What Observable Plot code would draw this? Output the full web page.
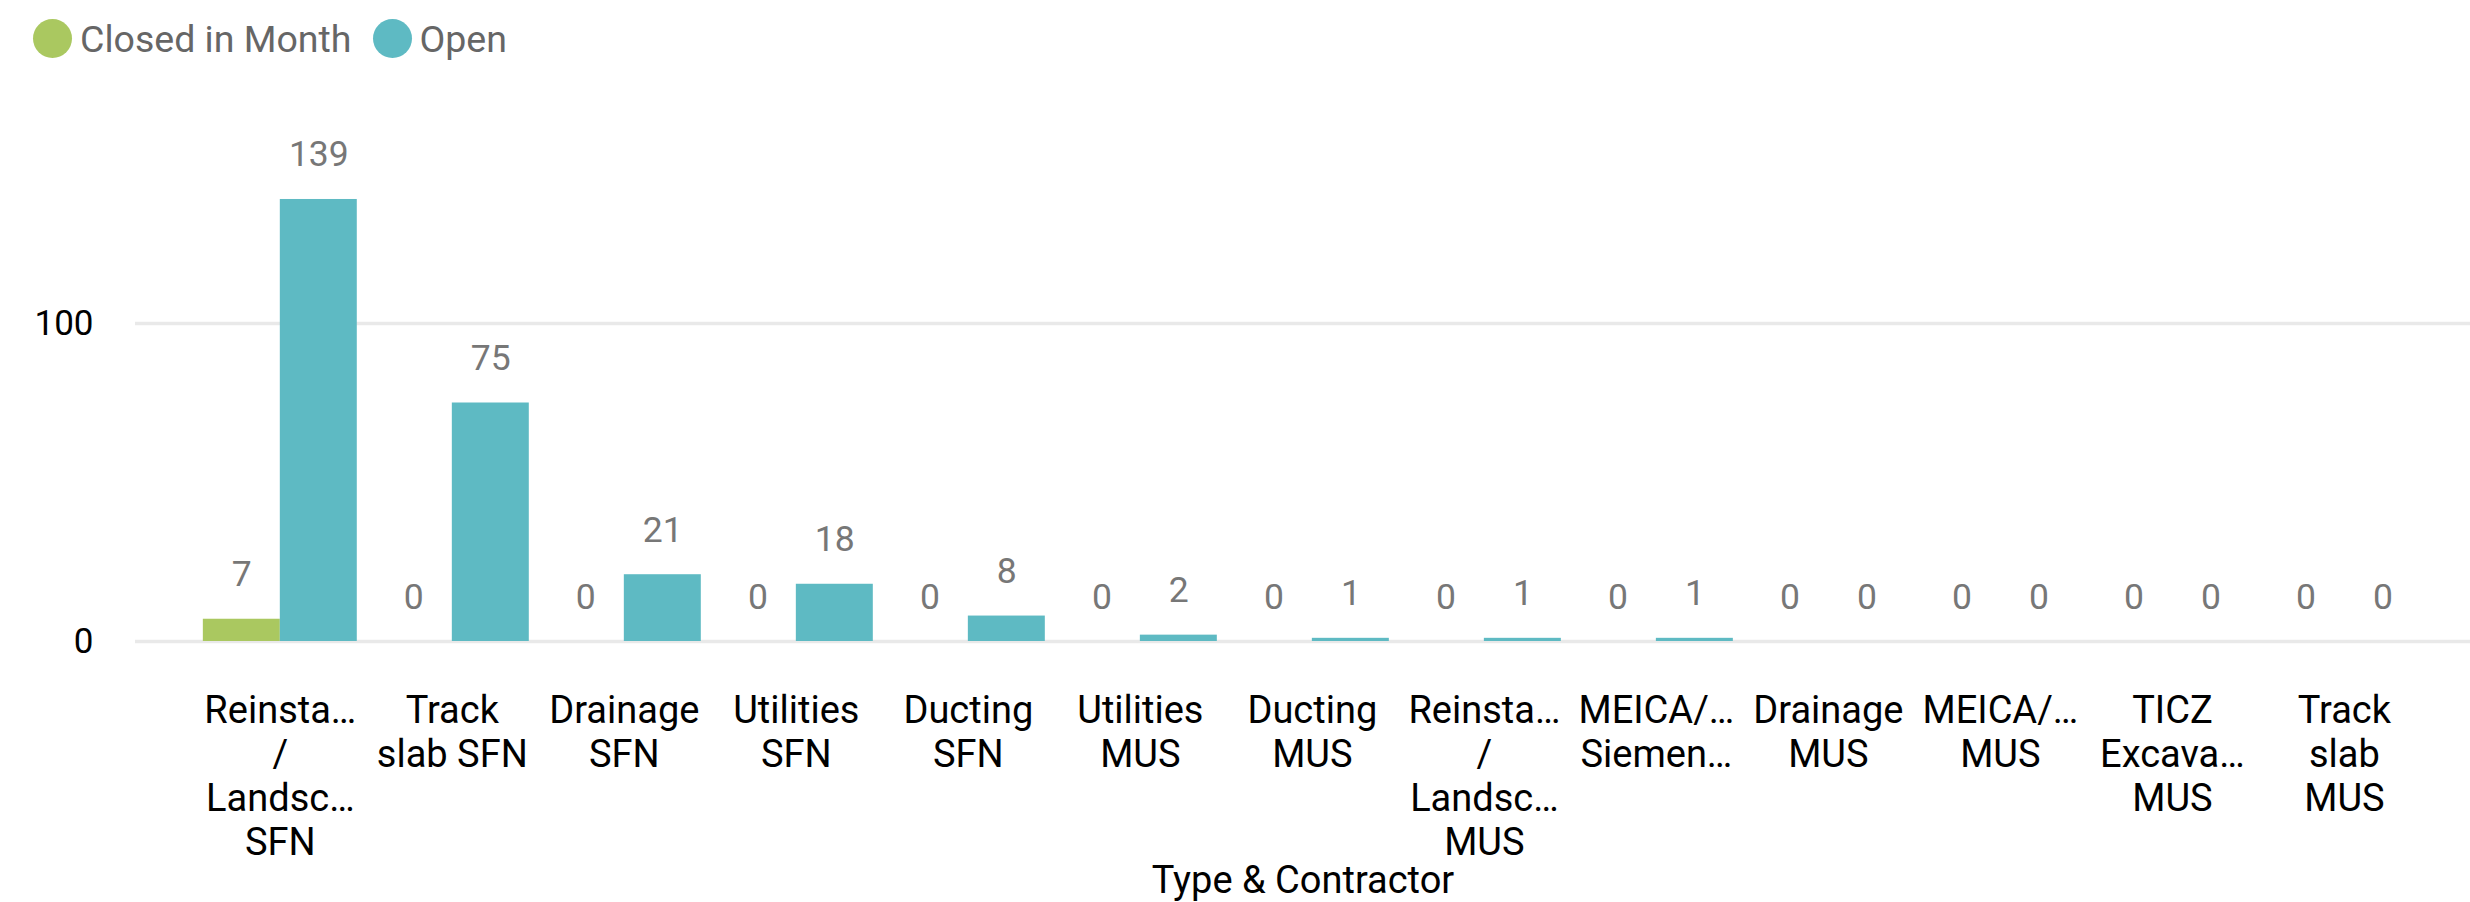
<!DOCTYPE html>
<html>
<head>
<meta charset="utf-8">
<script src="https://cdn.jsdelivr.net/npm/d3@7"></script>
<script src="https://cdn.jsdelivr.net/npm/@observablehq/plot@0.6"></script>
<style>
  html, body { margin: 0; padding: 0; background: #fff; }
  body { font-family: Roboto, "Noto Sans", sans-serif; width: 2470px; height: 902px; overflow: hidden; }
  #legend { height: 67px; padding-top: 5px; padding-left: 33px; display: flex; align-items: center; font-size: 37.5px; color: #666; }
  .item { display: flex; align-items: center; margin-right: 21px; }
  .sw { width: 39px; height: 39px; border-radius: 50%; margin-right: 8px; }
  #chart svg { display: block; overflow: visible; }
</style>
</head>
<body>
<div id="legend"></div>
<div id="chart"></div>
<script>
// ---- data ----
const categories = [
  "Reinsta… / Landsc… SFN",
  "Track slab SFN",
  "Drainage SFN",
  "Utilities SFN",
  "Ducting SFN",
  "Utilities MUS",
  "Ducting MUS",
  "Reinsta… / Landsc… MUS",
  "MEICA/… Siemen…",
  "Drainage MUS",
  "MEICA/… MUS",
  "TICZ Excava… MUS",
  "Track slab MUS"
];
const tickLabels = [
  "Reinsta…\n/\nLandsc…\nSFN",
  "Track\nslab SFN",
  "Drainage\nSFN",
  "Utilities\nSFN",
  "Ducting\nSFN",
  "Utilities\nMUS",
  "Ducting\nMUS",
  "Reinsta…\n/\nLandsc…\nMUS",
  "MEICA/…\nSiemen…",
  "Drainage\nMUS",
  "MEICA/…\nMUS",
  "TICZ\nExcava…\nMUS",
  "Track\nslab\nMUS"
];
const seriesNames = ["Closed in Month", "Open"];
const closedValues = [7, 0, 0, 0, 0, 0, 0, 0, 0, 0, 0, 0, 0];
const openValues = [139, 75, 21, 18, 8, 2, 1, 1, 1, 0, 0, 0, 0];
const seriesColors = ["#AAC860", "#5EBAC3"];
const yTicks = [0, 100];
const yDomain = [0, 150];
const axisTitle = "Type & Contractor";

// ---- tables ----
const closedRows = categories.map((c, i) => ({category: c, series: seriesNames[0], value: closedValues[i]}));
const openRows = categories.map((c, i) => ({category: c, series: seriesNames[1], value: openValues[i]}));

// ---- legend ----
const legend = document.getElementById("legend");
seriesNames.forEach((s, i) => {
  const item = document.createElement("div");
  item.className = "item";
  const sw = document.createElement("span");
  sw.className = "sw";
  sw.style.background = seriesColors[i];
  const t = document.createElement("span");
  t.textContent = s;
  item.appendChild(sw);
  item.appendChild(t);
  legend.appendChild(item);
});

// ---- chart ----
const W = 2470, ML = 135, MR = 0;
const xOpts = {type: "band", domain: categories, paddingInner: 0.105, paddingOuter: 0.34, align: 0.58, round: false};
const bw = Plot.scale({x: {...xOpts, range: [ML, W - MR]}}).bandwidth;

const valueStyle = {fontSize: 35.5, fill: "#777", lineAnchor: "bottom", dy: -33};
const chart = Plot.plot({
  width: W,
  height: 830,
  marginLeft: ML,
  marginRight: MR,
  marginTop: 92,
  marginBottom: 261,
  style: {fontFamily: "Roboto, 'Noto Sans', sans-serif", color: "#000", background: "#fff"},
  x: xOpts,
  y: {domain: yDomain},
  color: {domain: seriesNames, range: seriesColors},
  marks: [
    Plot.gridY({ticks: yTicks, stroke: "#e9e9e9", strokeOpacity: 1, strokeWidth: 3.5}),
    Plot.axisY({ticks: yTicks, tickSize: 0, tickPadding: 42, fontSize: 35, fill: "#000", label: null}),
    Plot.barY(closedRows, {x: "category", y: "value", fill: "series", insetRight: bw / 2}),
    Plot.barY(openRows, {x: "category", y: "value", fill: "series", insetLeft: bw / 2}),
    Plot.text(closedRows, {x: "category", y: "value", text: d => String(d.value), dx: -bw / 4, ...valueStyle}),
    Plot.text(openRows, {x: "category", y: "value", text: d => String(d.value), dx: bw / 4, ...valueStyle}),
    Plot.axisX({anchor: "bottom", tickSize: 0, tickPadding: 50, fontSize: 38, lineHeight: 1.16,
      fill: "#000",
      tickFormat: c => tickLabels[categories.indexOf(c)],
      label: axisTitle, labelAnchor: "center", labelOffset: 251})
  ]
});
document.getElementById("chart").appendChild(chart);
</script>
</body>
</html>
